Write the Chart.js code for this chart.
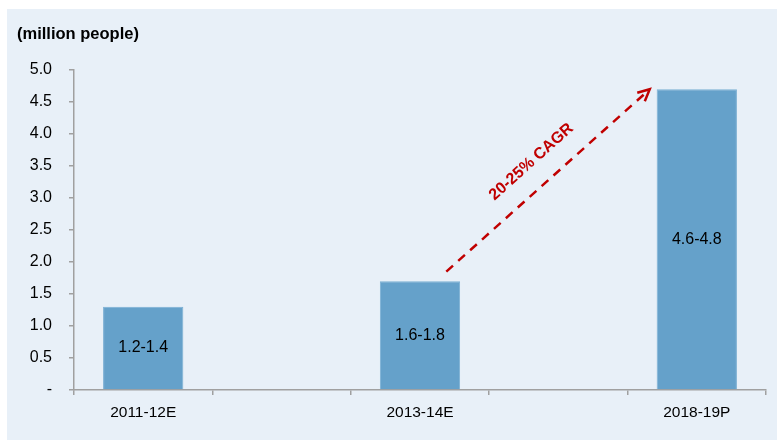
<!DOCTYPE html>
<html>
<head>
<meta charset="utf-8">
<script src="https://cdn.jsdelivr.net/npm/chart.js@4.4.1/dist/chart.umd.min.js"></script>
<style>
  html, body { margin: 0; padding: 0; background: #ffffff; }
  #wrap { position: absolute; left: 7px; top: 9px; width: 770px; height: 431px; background: #E8F0F8; }
  canvas { display: block; }
</style>
</head>
<body>
<div id="wrap"><canvas id="c" width="770" height="431"></canvas></div>
<script>
const categories = ['2011-12E', '', '2013-14E', '', '2018-19P'];
const values = [1.3, null, 1.7, null, 4.7];
const rangeLabels = ['1.2-1.4', '', '1.6-1.8', '', '4.6-4.8'];
const yTicks = [0, 0.5, 1, 1.5, 2, 2.5, 3, 3.5, 4, 4.5, 5];
const unitLabel = '(million people)';
const cagrLabel = '20-25% CAGR';
// arrow endpoints in data space: [category position, value]
const arrowFrom = [2.19, 1.85];
const arrowTo = [3.66, 4.70];

const FONT = '"Liberation Sans", Arial, sans-serif';

const overlay = {
  id: 'overlay',
  afterDatasetsDraw(chart) {
    const ctx = chart.ctx;
    const xs = chart.scales.x, ys = chart.scales.y;
    const meta = chart.getDatasetMeta(0);
    ctx.save();
    // bar labels
    ctx.fillStyle = '#000000';
    ctx.font = '16px ' + FONT;
    ctx.textAlign = 'center';
    ctx.textBaseline = 'middle';
    meta.data.forEach((bar, i) => {
      if (values[i] == null) return;
      const yMid = (bar.y + bar.base) / 2;
      ctx.fillText(rangeLabels[i], bar.x, yMid);
    });
    // title
    ctx.font = 'bold 16.5px ' + FONT;
    ctx.textAlign = 'left';
    ctx.fillText(unitLabel, 10, 25);
    // arrow
    const x1 = xs.getPixelForValue(arrowFrom[0]), y1 = ys.getPixelForValue(arrowFrom[1]);
    const x2 = xs.getPixelForValue(arrowTo[0]), y2 = ys.getPixelForValue(arrowTo[1]);
    const ang = Math.atan2(y2 - y1, x2 - x1);
    ctx.strokeStyle = '#C00000';
    ctx.fillStyle = '#C00000';
    ctx.lineWidth = 2.5;
    ctx.setLineDash([9, 7]);
    ctx.beginPath();
    ctx.moveTo(x1, y1);
    ctx.lineTo(x2 - 3 * Math.cos(ang), y2 - 3 * Math.sin(ang));
    ctx.stroke();
    ctx.setLineDash([]);
    // open arrowhead
    const hl = 13, ha = 0.45;
    ctx.lineWidth = 2.5;
    ctx.beginPath();
    ctx.moveTo(x2 - hl * Math.cos(ang - ha), y2 - hl * Math.sin(ang - ha));
    ctx.lineTo(x2, y2);
    ctx.lineTo(x2 - hl * Math.cos(ang + ha), y2 - hl * Math.sin(ang + ha));
    ctx.stroke();
    // CAGR text
    const mx = (x1 + x2) / 2, my = (y1 + y2) / 2;
    const off = 25;
    const tx = mx + off * Math.sin(ang), ty = my - off * Math.cos(ang);
    ctx.translate(tx, ty);
    ctx.rotate(ang);
    ctx.font = 'bold 16px ' + FONT;
    ctx.textAlign = 'center';
    ctx.textBaseline = 'middle';
    ctx.fillText(cagrLabel, 0, 0);
    ctx.restore();
  }
};

new Chart(document.getElementById('c'), {
  type: 'bar',
  data: {
    labels: categories,
    datasets: [{
      data: values,
      backgroundColor: '#65A1CA',
      borderColor: '#7AAFD3',
      borderWidth: 1,
      categoryPercentage: 1.0,
      barPercentage: 0.58
    }]
  },
  options: {
    responsive: false,
    animation: false,
    devicePixelRatio: 1,
    layout: { padding: { left: 0, right: 11, top: 61, bottom: 10 } },
    plugins: { legend: { display: false }, tooltip: { enabled: false }, title: { display: false } },
    scales: {
      x: {
        offset: true,
        grid: { display: true, drawOnChartArea: false, drawTicks: true, tickLength: 5, offset: true, color: '#A0A0A0', lineWidth: 1.5 },
        border: { display: true, color: '#A0A0A0', width: 1.5 },
        ticks: { color: '#000000', font: { family: FONT, size: 15.5 }, padding: 8, maxRotation: 0, autoSkip: false },
        afterFit(s) { s.height = 40; }
      },
      y: {
        min: 0, max: 5,
        afterBuildTicks(s) { s.ticks = yTicks.map(v => ({ value: v })); },
        grid: { display: true, drawOnChartArea: false, drawTicks: true, tickLength: 5, color: '#A0A0A0', lineWidth: 1.5 },
        border: { display: true, color: '#A0A0A0', width: 1.5 },
        ticks: {
          color: '#000000', font: { family: FONT, size: 16 }, padding: 17,
          callback: v => (v === 0 ? '-' : Number(v).toFixed(1))
        },
        afterFit(s) { s.width = 67; }
      }
    }
  },
  plugins: [overlay]
});
</script>
</body>
</html>
